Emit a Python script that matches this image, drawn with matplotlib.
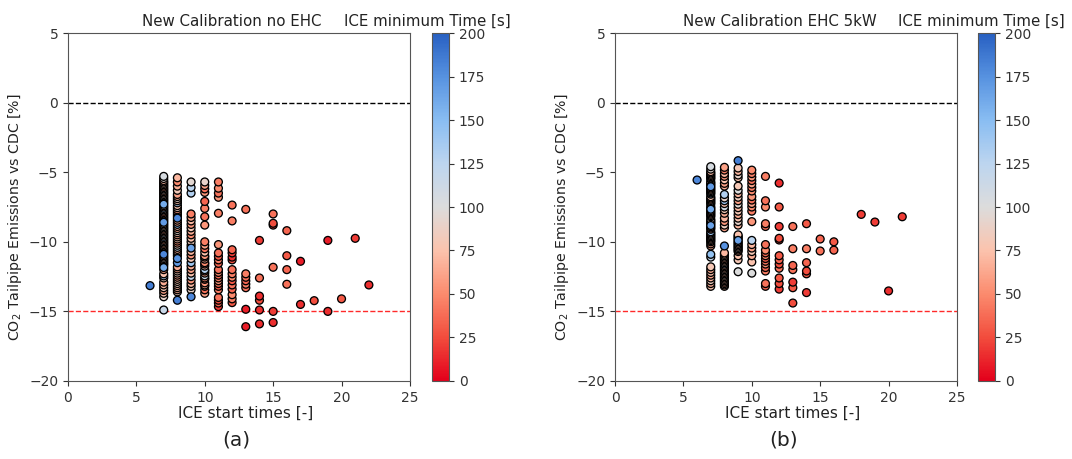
import matplotlib
matplotlib.use("Agg")
import matplotlib.pyplot as plt
from matplotlib.colors import LinearSegmentedColormap, Normalize

# ---- data: New Calibration no EHC --------------------------------------
start_a = (
    [6]
    + [7] * 46 + [7] * 30
    + [8] * 30 + [8] * 20
    + [9] * 27
    + [10] * 24 + [10] * 5
    + [11] * 22
    + [12] * 15
    + [13] * 8
    + [14] * 6
    + [15] * 6
    + [16] * 4
    + [17] * 2
    + [18, 19, 19, 20, 21, 22]
)
co2_a = (
    [-13.15]
    # 7
    + [-5.3, -5.45, -5.6, -5.8, -6.0, -6.2, -6.4, -6.6, -6.8, -7.0, -7.2, -7.4,
       -7.6, -7.8, -8.0, -8.2, -8.4, -8.6, -8.8, -9.0, -9.2, -9.4, -9.6, -9.8,
       -10.0, -10.2, -10.4, -10.6, -10.8, -11.0, -11.2, -11.4, -11.7, -12.0,
       -12.3, -12.6, -12.9, -13.1, -13.3, -13.5, -13.7, -13.95, -12.45, -11.85,
       -10.9, -14.9]
    + [-5.7, -5.9, -6.1, -6.3, -6.5, -6.7, -6.9, -7.1, -7.3, -7.5, -7.7, -7.9,
       -8.1, -8.3, -8.5, -8.7, -8.9, -9.1, -9.3, -9.5, -9.7, -9.9, -10.1,
       -10.3, -10.5, -10.7, -11.1, -11.3, -11.5, -11.6]
    # 8
    + [-5.4, -5.7, -6.0, -6.3, -6.6, -6.9, -7.2, -7.4, -7.7, -8.0, -8.3, -8.6,
       -8.9, -9.2, -9.5, -9.8, -10.1, -10.4, -10.7, -11.0, -11.2, -11.5, -11.8,
       -12.1, -12.4, -12.7, -13.0, -13.3, -13.6, -14.2]
    + [-6.75, -7.05, -7.55, -7.85, -8.15, -8.45, -8.75, -9.05, -9.35, -9.65,
       -9.95, -10.25, -10.55, -10.85, -12.55, -12.85, -13.15, -13.45, -12.25,
       -11.95]
    # 9
    + [-5.7, -6.1, -6.5, -8.0, -8.25, -8.5, -8.75, -9.0, -9.25, -9.5, -9.75,
       -10.0, -10.25, -10.45, -10.7, -10.95, -11.2, -11.5, -11.75, -12.0,
       -12.25, -12.5, -12.75, -13.0, -13.2, -13.45, -13.95]
    # 10
    + [-5.7, -5.95, -6.2, -6.45, -7.1, -7.6, -8.2, -8.8, -10.0, -10.25, -10.5,
       -10.75, -11.0, -11.25, -11.5, -11.75, -12.0, -12.25, -12.45, -12.7,
       -12.95, -13.2, -13.45, -13.7]
    + [-11.1, -11.6, -12.1, -12.6, -13.1]
    # 11
    + [-5.7, -6.15, -6.5, -6.8, -7.95, -10.2, -10.8, -11.05, -11.3, -12.0,
       -12.2, -12.4, -12.6, -12.8, -13.0, -13.2, -13.45, -14.0, -14.2, -14.4,
       -14.66, -11.55]
    # 12
    + [-7.36, -8.5, -10.57, -10.8, -11.1, -11.3, -12.0, -12.3, -12.55, -12.8,
       -13.1, -13.4, -13.8, -14.1, -14.37]
    # 13
    + [-7.67, -12.3, -12.55, -12.8, -13.05, -13.3, -14.85, -16.1]
    # 14
    + [-9.9, -12.6, -13.9, -14.2, -14.9, -15.9]
    # 15
    + [-8.0, -8.67, -8.8, -11.83, -15.0, -15.8]
    # 16
    + [-9.2, -11.0, -12.0, -13.05]
    # 17
    + [-11.4, -14.5]
    # 18 - 22
    + [-14.23, -9.9, -15.0, -14.1, -9.75, -13.1]
)
tmin_a = (
    [185]
    # 7
    + [105, 95, 70, 80, 60, 85, 55, 90, 120, 75, 65, 100, 140, 70, 60, 110, 85,
       170, 75, 95, 65, 130, 80, 70, 110, 60, 90, 75, 55, 65, 100, 80, 70, 60,
       75, 85, 65, 70, 80, 60, 75, 90, 130, 160, 180, 115]
    + [60, 75, 50, 90, 65, 80, 55, 70, 160, 60, 85, 45, 70, 120, 60, 75, 90,
       55, 65, 80, 150, 60, 70, 85, 50, 65, 75, 60, 80, 70]
    # 8
    + [70, 50, 65, 80, 60, 90, 130, 75, 55, 85, 180, 65, 70, 95, 60, 80, 55,
       120, 70, 140, 175, 170, 65, 80, 60, 75, 85, 70, 80, 185]
    + [60, 75, 85, 55, 70, 65, 150, 60, 80, 70, 55, 90, 65, 75, 60, 80, 70,
       65, 85, 60]
    # 9
    + [95, 125, 130, 45, 60, 70, 55, 80, 65, 50, 75, 85, 60, 165, 70, 55, 80,
       140, 65, 60, 75, 120, 55, 70, 80, 90, 180]
    # 10
    + [90, 60, 40, 55, 35, 45, 40, 55, 45, 60, 40, 75, 55, 65, 50, 70, 130,
       60, 115, 45, 55, 65, 40, 60]
    + [60, 45, 55, 50, 60]
    # 11
    + [45, 50, 40, 55, 45, 55, 40, 30, 45, 40, 50, 35, 45, 55, 40, 30, 45, 40,
       25, 35, 20, 35]
    # 12
    + [40, 45, 35, 20, 15, 25, 40, 45, 50, 30, 40, 35, 50, 45, 30]
    # 13
    + [40, 45, 40, 35, 45, 40, 10, 10]
    # 14
    + [20, 40, 15, 25, 15, 15]
    # 15
    + [40, 25, 20, 40, 20, 15]
    # 16
    + [35, 30, 35, 40]
    # 17
    + [10, 15]
    # 18 - 22
    + [25, 10, 15, 30, 20, 15]
)

# ---- data: New Calibration EHC 5kW -------------------------------------
start_b = (
    [6]
    + [7] * 42 + [7] * 24
    + [8] * 32 + [8] * 12
    + [9] * 27 + [9] * 6
    + [10] * 20
    + [11] * 16
    + [12] * 12
    + [13] * 7
    + [14] * 6
    + [15] * 2
    + [16] * 2
    + [18, 19, 20, 21]
)
co2_b = (
    [-5.56]
    # 7
    + [-4.6, -4.78, -4.96, -5.14, -5.32, -5.5, -5.68, -5.86, -6.04, -6.22,
       -6.4, -6.58, -6.76, -6.94, -7.12, -7.3, -7.48, -7.66, -7.84, -8.02,
       -8.2, -8.38, -8.56, -8.74, -8.92, -9.1, -9.28, -9.46, -9.64, -9.82,
       -10.0, -10.3, -10.9, -11.1, -11.8, -12.0, -12.2, -12.4, -12.6, -12.8,
       -13.0, -13.2]
    + [-5.05, -5.23, -5.41, -5.77, -5.95, -6.13, -6.31, -6.49, -6.85, -7.03,
       -7.21, -7.57, -7.75, -7.93, -8.11, -8.47, -8.65, -8.83, -9.01, -9.37,
       -9.55, -9.73, -9.91, -10.15]
    # 8
    + [-4.65, -4.85, -5.1, -5.3, -5.55, -5.8, -6.0, -6.6, -6.85, -7.05, -7.25,
       -7.5, -7.7, -7.95, -8.3, -8.55, -8.8, -9.0, -10.3, -10.8, -11.0, -11.2,
       -11.4, -11.6, -11.8, -12.0, -12.2, -12.4, -12.6, -12.8, -13.0, -13.2]
    + [-10.9, -11.1, -11.3, -11.5, -11.7, -11.9, -12.1, -12.3, -12.5, -12.7,
       -12.9, -13.1]
    # 9
    + [-4.17, -4.7, -4.95, -5.2, -5.4, -6.0, -6.3, -6.55, -6.8, -7.05, -7.3,
       -7.55, -7.8, -8.05, -8.3, -8.55, -8.8, -9.5, -9.7, -9.9, -10.1, -10.3,
       -10.5, -10.7, -11.0, -11.3, -12.15]
    + [-9.6, -9.8, -10.0, -10.2, -10.4, -10.6]
    # 10
    + [-4.85, -5.1, -5.35, -5.6, -5.85, -6.1, -6.35, -6.75, -7.0, -7.25, -7.5,
       -7.8, -8.55, -9.9, -10.2, -10.45, -10.7, -11.0, -11.45, -12.25]
    # 11
    + [-5.3, -7.05, -7.5, -8.7, -8.9, -10.2, -10.6, -10.8, -11.0, -11.2, -11.4,
       -11.6, -11.85, -12.1, -13.0, -13.2]
    # 12
    + [-5.78, -7.5, -8.9, -9.75, -9.87, -11.0, -11.3, -11.6, -11.9, -12.6,
       -13.0, -13.4]
    # 13
    + [-8.9, -10.5, -11.7, -12.0, -12.9, -13.3, -14.4]
    # 14
    + [-8.7, -10.5, -11.5, -12.1, -12.3, -13.65]
    # 15
    + [-9.8, -10.66]
    # 16
    + [-10.0, -10.6]
    # 18 - 21
    + [-8.03, -8.58, -13.53, -8.2]
)
tmin_b = (
    [180]
    # 7
    + [105, 95, 70, 85, 60, 110, 75, 80, 170, 65, 90, 130, 75, 60, 100, 85,
       70, 160, 80, 65, 120, 90, 75, 60, 85, 70, 140, 80, 65, 75, 70, 60, 145,
       120, 80, 65, 75, 60, 70, 85, 65, 75]
    + [70, 60, 85, 65, 75, 55, 80, 150, 65, 70, 90, 60, 75, 65, 80, 55, 70,
       165, 60, 75, 85, 65, 70, 60]
    # 8
    + [60, 45, 70, 55, 75, 60, 65, 130, 90, 140, 75, 110, 80, 65, 70, 55, 85,
       60, 175, 70, 85, 60, 75, 130, 65, 80, 70, 90, 65, 75, 60, 70]
    + [65, 75, 60, 80, 70, 65, 85, 60, 75, 70, 65, 80]
    # 9
    + [185, 80, 70, 90, 75, 80, 100, 70, 85, 60, 95, 70, 80, 65, 75, 90, 70,
       75, 65, 165, 80, 70, 110, 65, 75, 80, 100]
    + [70, 60, 75, 65, 80, 60]
    # 10
    + [50, 45, 55, 40, 60, 45, 50, 55, 40, 60, 50, 45, 55, 125, 70, 60, 80,
       65, 75, 100]
    # 11
    + [45, 40, 50, 45, 40, 40, 50, 35, 45, 30, 40, 50, 35, 45, 40, 35]
    # 12
    + [15, 30, 20, 25, 20, 30, 35, 25, 40, 30, 25, 20]
    # 13
    + [40, 45, 35, 40, 20, 30, 25]
    # 14
    + [30, 45, 35, 25, 30, 20]
    # 15
    + [35, 40]
    # 16
    + [30, 35]
    # 18 - 21
    + [20, 20, 15, 20]
)

titles = ["New Calibration no EHC", "New Calibration EHC 5kW"]
panel_tags = ["(a)", "(b)"]

cmap = LinearSegmentedColormap.from_list(
    "ice_time",
    ["#e3001b", "#f24d3d", "#fb8b6e", "#fbc3ad", "#dcdcdc",
     "#bdd5ef", "#89bdf2", "#5792e0", "#2860c2"],
)
norm = Normalize(vmin=0, vmax=200)

fig = plt.figure(figsize=(10.72, 4.59), dpi=100)

ax_lefts = [0.0634, 0.5737]
cb_lefts = [0.4030, 0.9123]
title_x = [232, 780]
cb_title_x = [427, 981]
panels = [(start_a, co2_a, tmin_a), (start_b, co2_b, tmin_b)]

for i, (xs, ys, cs) in enumerate(panels):
    ax = fig.add_axes([ax_lefts[i], 0.170, 0.319, 0.758])
    cax = fig.add_axes([cb_lefts[i], 0.170, 0.0159, 0.758])

    ax.axhline(0, color="black", ls="--", lw=1.0, zorder=1)
    ax.axhline(-15, color="#ff2a2a", ls="--", lw=1.0, zorder=1)

    # runs stacked from the lowest emission value upwards; long minimum-time
    # runs (>= 160 s) are drawn last so they stay visible inside the columns
    pts = sorted(zip(xs, ys, cs), key=lambda p: (p[2] >= 160, p[1]))
    px = [p[0] for p in pts]
    py = [p[1] for p in pts]
    pc = [p[2] for p in pts]
    sc = ax.scatter(px, py, c=pc, cmap=cmap, norm=norm, s=32,
                    edgecolors="black", linewidths=0.95, zorder=3)

    ax.set_xlim(0, 25)
    ax.set_ylim(-20, 5)
    ax.set_xticks([0, 5, 10, 15, 20, 25])
    ax.set_yticks([5, 0, -5, -10, -15, -20])
    ax.tick_params(labelsize=10, colors="#333333")
    for sp in ax.spines.values():
        sp.set_color("#555555")
    ax.set_xlabel("ICE start times [-]", fontsize=11, color="#222222")
    ax.xaxis.set_label_coords(0.52, -0.072)
    ax.set_ylabel("CO$_2$ Tailpipe Emissions vs CDC [%]", fontsize=10.2,
                  color="#222222")
    ax.yaxis.set_label_coords(-0.128, 0.471)
    fig.text(title_x[i] / 1072, 1 - 21 / 459, titles[i], fontsize=10.8,
             ha="center", va="center", color="#222222")

    cb = fig.colorbar(sc, cax=cax)
    cb.set_ticks([0, 25, 50, 75, 100, 125, 150, 175, 200])
    cb.ax.tick_params(labelsize=10, colors="#333333")
    cb.outline.set_edgecolor("#555555")
    fig.text(cb_title_x[i] / 1072, 1 - 21 / 459, "ICE minimum Time [s]",
             fontsize=10.8, ha="center", va="center", color="#222222")

    fig.text(ax_lefts[i] + 0.319 / 2 - 0.002, 1 - 440 / 459, panel_tags[i],
             fontsize=14.5, ha="center", va="center", color="#222222")

fig.savefig("out.png", dpi=100)
